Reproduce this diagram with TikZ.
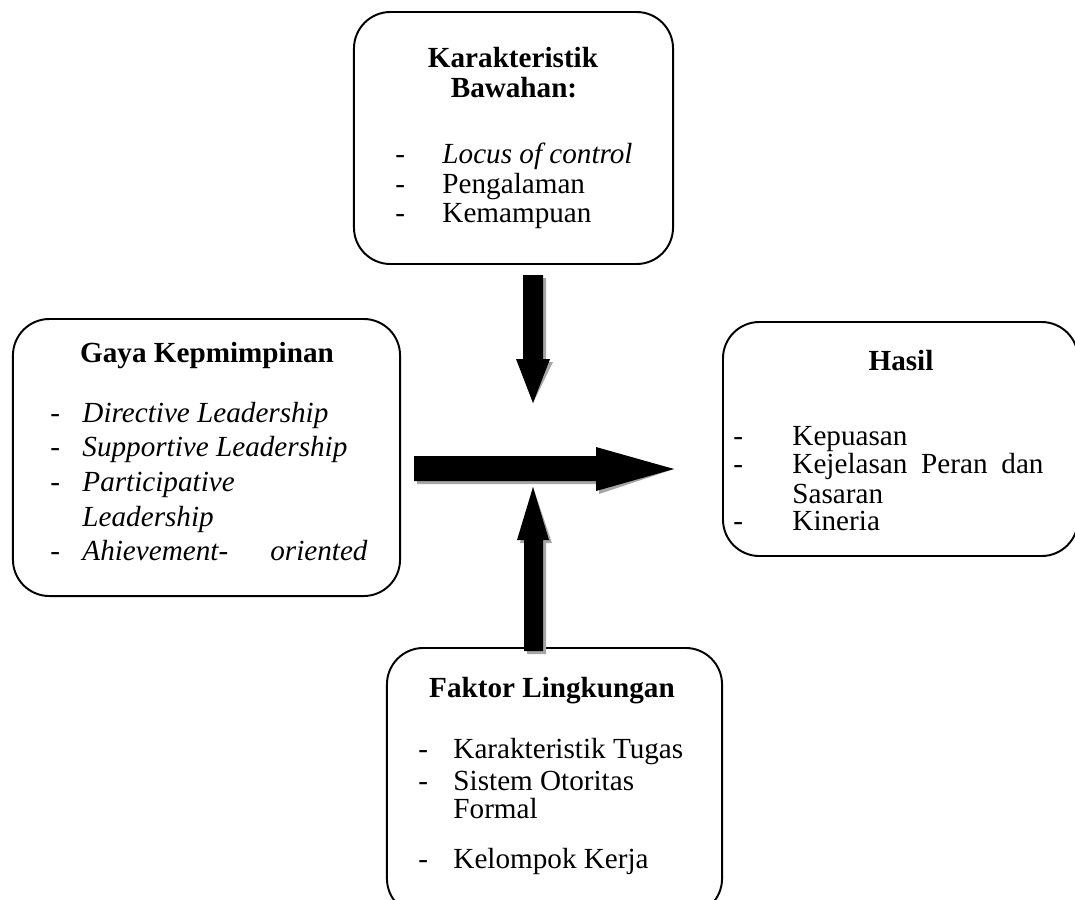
\documentclass[tikz,border=0pt]{standalone}
\usepackage{fontspec}
\setmainfont{Liberation Serif}
\begin{document}
\begin{tikzpicture}[x=0.4115pt,y=-0.4115pt,
  box/.style={draw=black,line width=0.8pt,rounded corners=15pt,inner sep=0pt},
  txt/.style={anchor=base west,inner sep=0pt,font=\fontsize{12}{14}\selectfont},
  ttl/.style={anchor=base,inner sep=0pt,font=\fontsize{12}{14}\selectfont\bfseries},
  ablk/.style={fill=black},
  ashd/.style={fill=black!35}]
\useasboundingbox (0,0) rectangle (1075,899);
\clip (0,0) rectangle (1075,899);
% boxes
\node[box,minimum width=131.3pt,minimum height=103.7pt] (top) at (513.5,138) {};
\node[box,minimum width=159.3pt,minimum height=114pt] (left) at (206.5,457.5) {};
\node[box,minimum width=146.1pt,minimum height=96.3pt] (right) at (900.5,439) {};
\node[box,minimum width=137.9pt,minimum height=109.9pt] (bot) at (554.5,781.5) {};
% top box text
\node[ttl] (t1) at (513,67) {Karakteristik};
\node[ttl] (t2) at (514,97) {Bawahan:};
\node[txt] (td1) at (395,163) {-};
\node[txt] (ti1) at (442,163) {\itshape Locus of control};
\node[txt] (td2) at (395,193) {-};
\node[txt] (ti2) at (442,193) {Pengalaman};
\node[txt] (td3) at (395,222) {-};
\node[txt] (ti3) at (442,222) {Kemampuan};
% left box text
\node[ttl] (l0) at (207,362) {Gaya Kepmimpinan};
\node[txt] (ld1) at (50,422) {-};
\node[txt] (li1) at (82,422) {\itshape Directive Leadership};
\node[txt] (ld2) at (50,456) {-};
\node[txt] (li2) at (82,456) {\itshape Supportive Leadership};
\node[txt] (ld3) at (50,491) {-};
\node[txt] (li3) at (82,491) {\itshape Participative};
\node[txt] (li3b) at (82,526) {\itshape Leadership};
\node[txt] (ld4) at (50,560) {-};
\node[txt] (li4) at (82,560) {\itshape\hbox to 117.3pt{Ahievement-\hfill oriented}};
% right box text
\node[ttl] (r0) at (901,370) {Hasil};
\node[txt] (rd1) at (733,445) {-};
\node[txt] (ri1) at (792,445) {Kepuasan};
\node[txt] (rd2) at (733,473) {-};
\node[txt] (ri2) at (792,473) {\hbox to 103.3pt{Kejelasan\hfill Peran\hfill dan}};
\node[txt] (ri2b) at (792,503) {Sasaran};
\node[txt] (rd3) at (733,530) {-};
\node[txt] (ri3) at (792,530) {Kineria};
% bottom box text
\node[ttl] (b0) at (552,697) {Faktor Lingkungan};
\node[txt] (bd1) at (418,758) {-};
\node[txt] (bi1) at (453,758) {Karakteristik Tugas};
\node[txt] (bd2) at (418,790) {-};
\node[txt] (bi2) at (453,790) {Sistem Otoritas};
\node[txt] (bi2b) at (453,818) {Formal};
\node[txt] (bd3) at (418,868) {-};
\node[txt] (bi3) at (453,868) {Kelompok Kerja};
% block arrows
\coordinate (dtip) at (533,403);
\coordinate (rtip) at (674,469);
\coordinate (utip) at (533,487);
\def\downarrowpath{(523,275) -- (543,275) -- (543,359) -- (550,359) -- (dtip) -- (516,359) -- (523,359) -- cycle}
\def\rightarrowpath{(414,456) -- (596,456) -- (596,447) -- (rtip) -- (596,491) -- (596,481) -- (414,481) -- cycle}
\def\uparrowpath{(524,651) -- (524,540) -- (517,540) -- (utip) -- (549,540) -- (543,540) -- (543,651) -- cycle}
\begin{scope}[shift={(3,3)}]
\fill[ashd] \downarrowpath;
\fill[ashd] \rightarrowpath;
\fill[ashd] \uparrowpath;
\end{scope}
\fill[ablk] \downarrowpath;
\fill[ablk] \rightarrowpath;
\fill[ablk] \uparrowpath;
\end{tikzpicture}
\end{document}
